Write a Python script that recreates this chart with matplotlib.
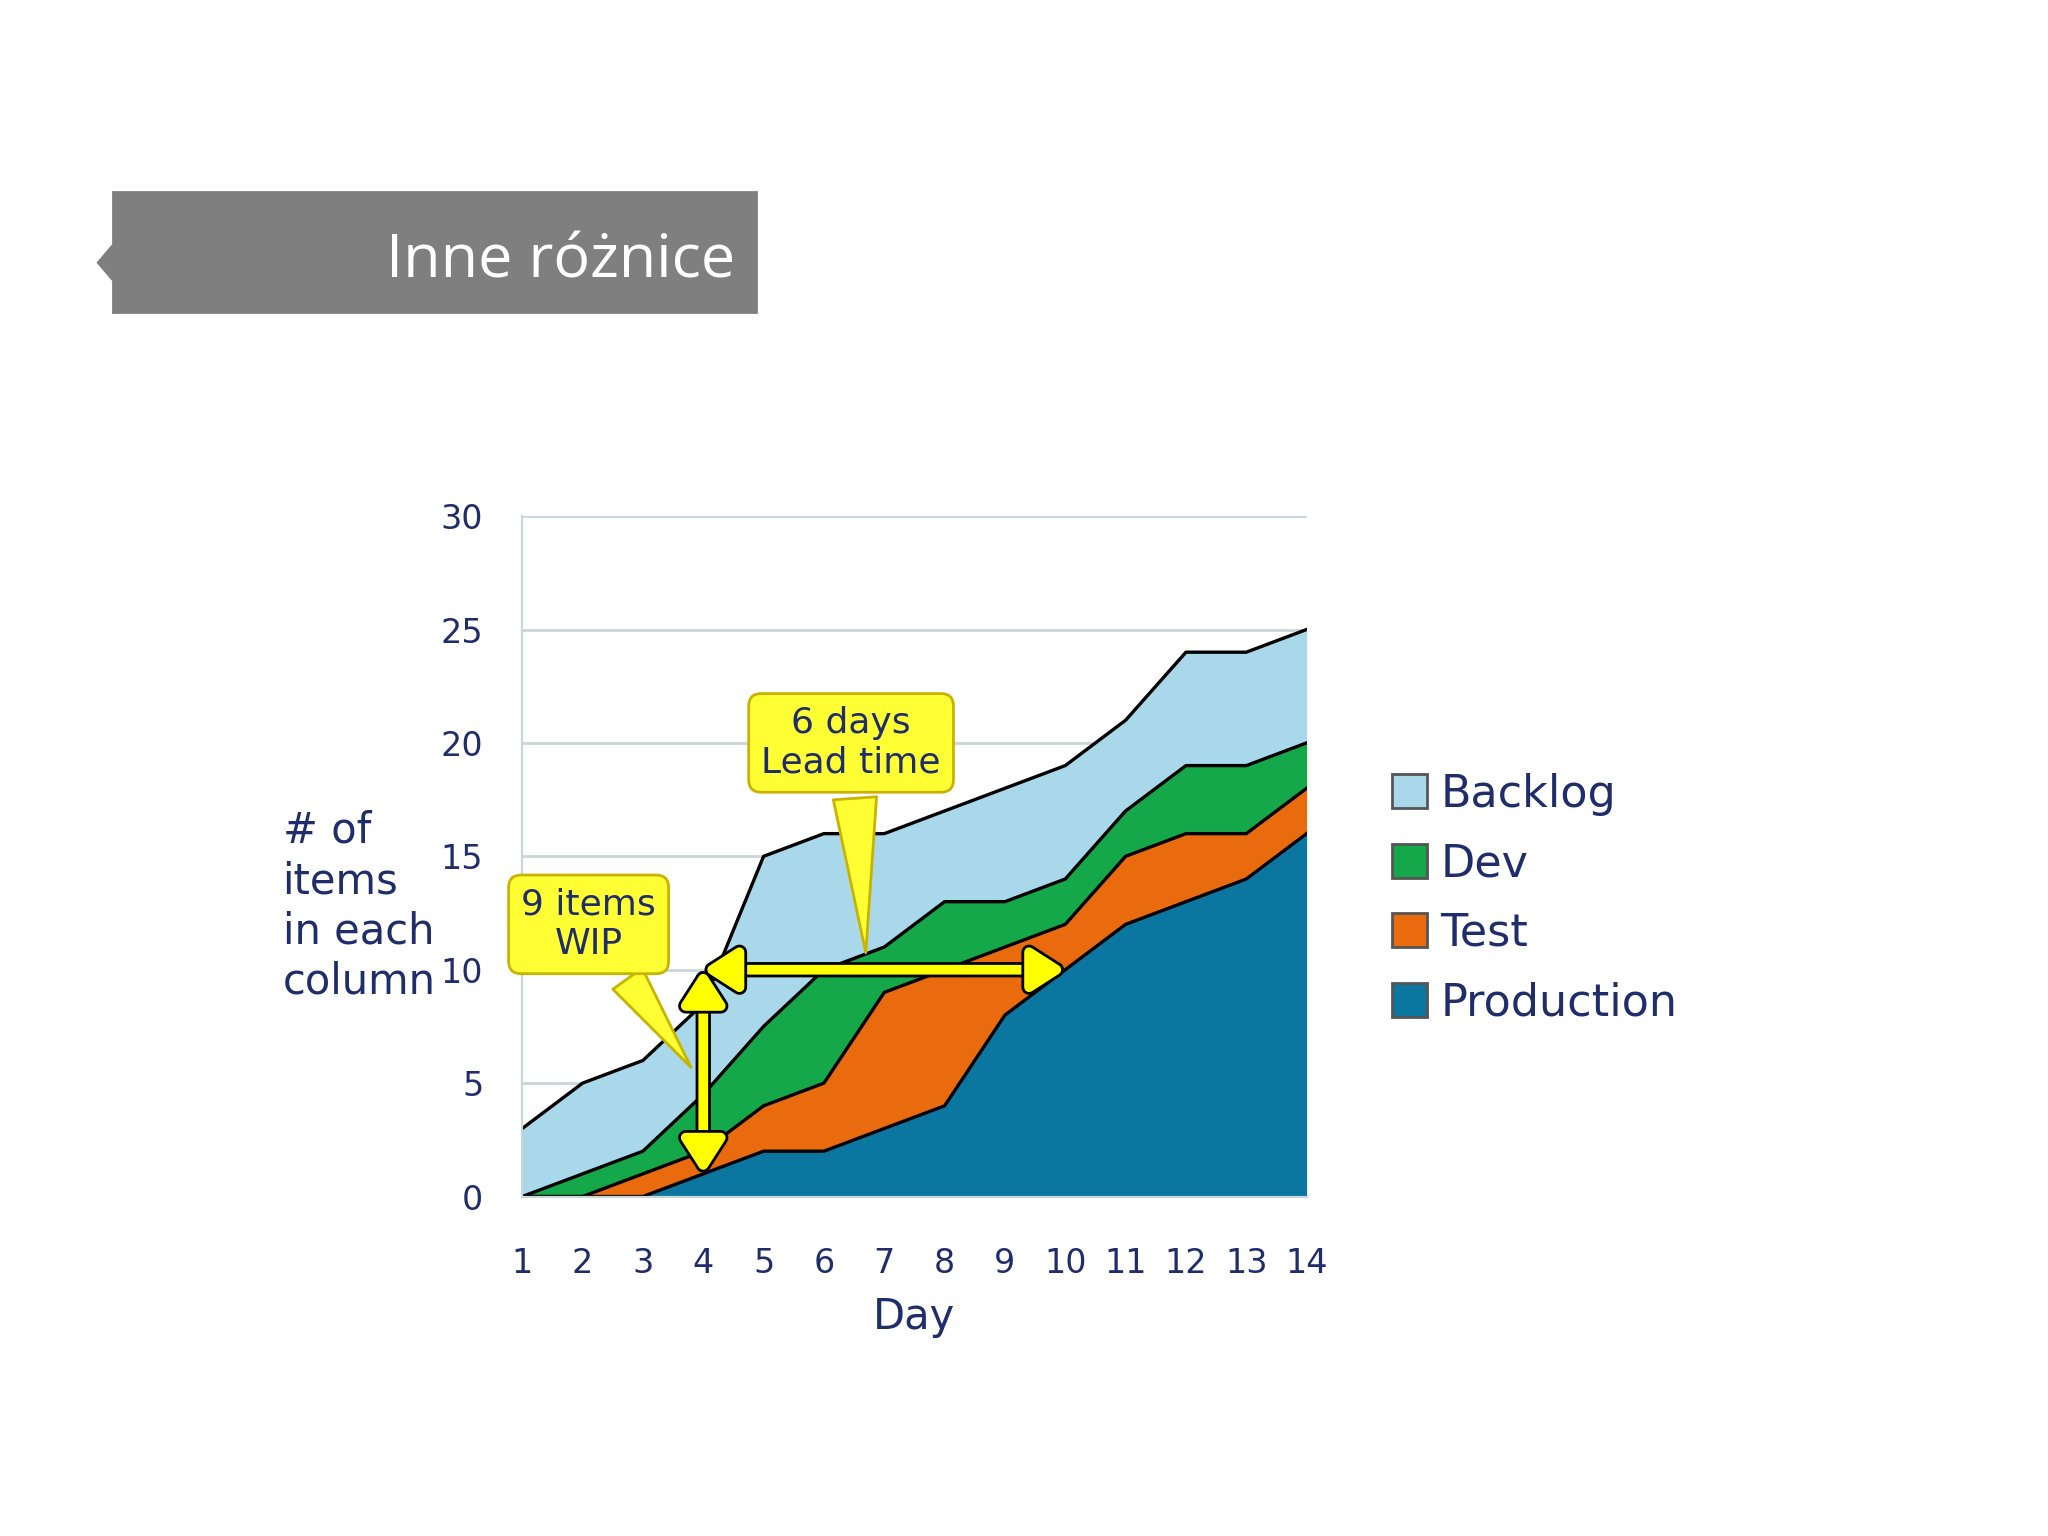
import matplotlib
matplotlib.use("Agg")
import matplotlib.pyplot as plt
import matplotlib.patheffects as pe
from matplotlib.patches import FancyArrowPatch, Polygon, Rectangle

days = list(range(1, 15))
production = [0, 0, 0, 1, 2, 2, 3, 4, 8, 10, 12, 13, 14, 16]
test_top = [0, 0, 1, 2, 4, 5, 9, 10, 11, 12, 15, 16, 16, 18]
dev_top = [0, 1, 2, 4.5, 7.5, 10, 11, 13, 13, 14, 17, 19, 19, 20]
backlog_top = [3, 5, 6, 8.5, 15, 16, 16, 17, 18, 19, 21, 24, 24, 25]
series_names = ["Backlog", "Dev", "Test", "Production"]
colors = ["#a8d8ea", "#14a84a", "#ea6a0e", "#0b77a0"]
yticks = [0, 5, 10, 15, 20, 25, 30]

navy = "#1f2d6b"
fig = plt.figure(figsize=(10.24, 7.68), dpi=200)
fig.patch.set_facecolor("white")

# title box
fig.patches.append(Rectangle((0.055, 0.797), 0.314, 0.078, transform=fig.transFigure, color="#7f7f7f"))
fig.patches.append(Polygon([[0.055, 0.818], [0.048, 0.829], [0.055, 0.840]], closed=True,
                           transform=fig.transFigure, color="#7f7f7f"))
fig.text(0.359, 0.830, "Inne różnice", color="white", fontsize=22, ha="right", va="center",
         family="Open Sans")

ax = fig.add_axes([0.255, 0.221, 0.383, 0.443])
layers = [(dev_top, backlog_top), (test_top, dev_top), (production, test_top), ([0]*14, production)]
for (lo, hi), c in zip(layers, colors):
    ax.fill_between(days, lo, hi, color=c, lw=0)
for top in [backlog_top, dev_top, test_top, production]:
    ax.plot(days, top, color="black", lw=1.2)
ax.set_xlim(1, 14)
ax.set_ylim(0, 30)
ax.set_xticks(days)
ax.set_yticks(yticks)
ax.yaxis.grid(True, color="#c9d6da", lw=1)
ax.set_axisbelow(True)
for s in ["top", "right"]:
    ax.spines[s].set_visible(False)
ax.spines["left"].set_color("#c9d6da")
ax.spines["bottom"].set_color("#c9d6da")
ax.tick_params(length=0, colors=navy, labelsize=12)
ax.tick_params(axis="x", pad=18)
ax.tick_params(axis="y", pad=14)
ax.set_xlabel("Day", color=navy, fontsize=15, labelpad=6)
fig.text(0.138, 0.41, "# of\nitems\nin each\ncolumn", color=navy, fontsize=15, ha="left", va="center",
         linespacing=1.25)

# arrows
for p1, p2 in [((4, 1), (4, 10)), ((4, 10), (10, 10))]:
    a = FancyArrowPatch(p1, p2, arrowstyle="<|-|>,head_length=0.7,head_width=0.45", lw=3.5,
                        fc="#ffff00", ec="#ffff00", mutation_scale=14, zorder=6,
                        shrinkA=0, shrinkB=0)
    a.set_path_effects([pe.Stroke(linewidth=5.5, foreground="black"), pe.Normal()])
    ax.add_patch(a)

box = dict(boxstyle="round,pad=0.35", fc="#ffff33", ec="#c8b400", lw=1)
ax.annotate("9 items\nWIP", xy=(3.85, 5.5), xytext=(2.1, 12.0), ha="center", va="center",
            fontsize=13, color=navy, bbox=box, zorder=7,
            arrowprops=dict(arrowstyle="wedge,tail_width=1.0", fc="#ffff33", ec="#c8b400"))
ax.annotate("6 days\nLead time", xy=(6.7, 10.5), xytext=(6.45, 20.0), ha="center", va="center",
            fontsize=13, color=navy, bbox=box, zorder=7,
            arrowprops=dict(arrowstyle="wedge,tail_width=1.2", fc="#ffff33", ec="#c8b400"))

# legend
handles = [Rectangle((0, 0), 1, 1, fc=c, ec="#555555") for c in colors]
fig.legend(handles, series_names, loc="center left", bbox_to_anchor=(0.66, 0.415), frameon=False,
           fontsize=16, labelcolor=navy, handlelength=0.8, handleheight=0.8, handletextpad=0.3,
           labelspacing=0.6)

fig.savefig("out.png", dpi=200)
